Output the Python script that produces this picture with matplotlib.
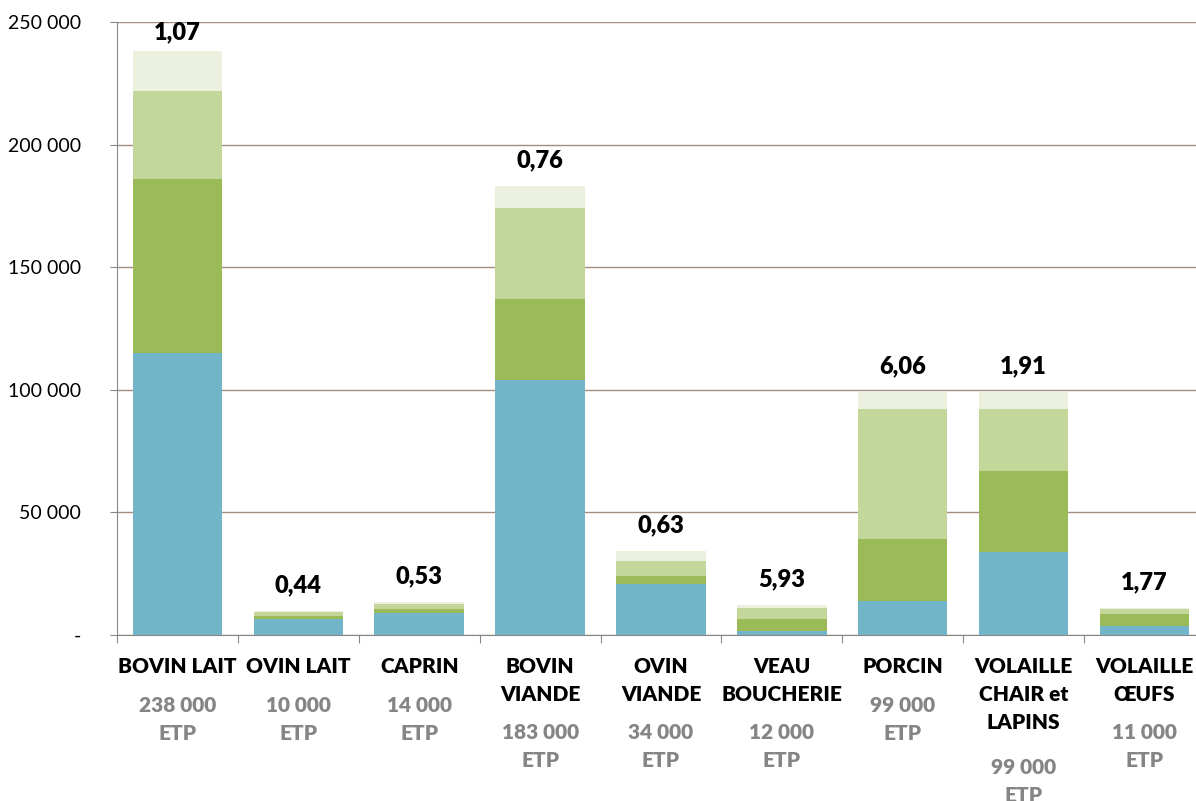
import numpy as np
import matplotlib.pyplot as plt

# data (values in ETP)
categories = ["BOVIN LAIT", "OVIN LAIT", "CAPRIN", "BOVIN\nVIANDE", "OVIN\nVIANDE",
              "VEAU\nBOUCHERIE", "PORCIN", "VOLAILLE\nCHAIR et\nLAPINS", "VOLAILLE\nŒUFS"]
etp_labels = ["238 000\nETP", "10 000\nETP", "14 000\nETP", "183 000\nETP", "34 000\nETP",
              "12 000\nETP", "99 000\nETP", "99 000\nETP", "11 000\nETP"]
ratios = ["1,07", "0,44", "0,53", "0,76", "0,63", "5,93", "6,06", "1,91", "1,77"]

seg1 = [115000, 6700, 8800, 104000, 20700, 1500, 14000, 34000, 3800]
seg2 = [71000, 1200, 1800, 33000, 3500, 4900, 25000, 33000, 4800]
seg3 = [36000, 1400, 1900, 37000, 6100, 4500, 53000, 25000, 2100]
seg4 = [16000, 500, 1000, 9000, 3800, 1300, 7000, 7000, 300]

colors = ["#72B4C8", "#9BBB59", "#C4D79B", "#EBF1DE"]

plt.rcParams['font.family'] = ['Lato', 'DejaVu Sans']

fig = plt.figure(figsize=(11.96, 8.01), dpi=100)
ax = fig.add_axes([0.0978, 0.2072, 0.9097, 0.7653])

x = np.arange(len(categories))
bottom = np.zeros(len(categories))
for seg, c in zip([seg1, seg2, seg3, seg4], colors):
    ax.bar(x, seg, bottom=bottom, width=0.74, color=c, zorder=3)
    bottom += np.array(seg)

# ratio labels above the bars
for xi, tot, r in zip(x, bottom, ratios):
    ax.text(xi, min(tot + 6000, 241500), r, ha='center', va='bottom', fontsize=17,
            fontweight='heavy', color='black')

ax.set_xlim(-0.5, len(categories) - 0.5)
ax.set_ylim(0, 250000)
yt = [0, 50000, 100000, 150000, 200000, 250000]
ax.set_yticks(yt)
ax.set_yticklabels(["-"] + ["{:,}".format(v).replace(",", " ") for v in yt[1:]],
                   fontsize=14)
ax.yaxis.grid(True, color='#A58C7C', linewidth=1, zorder=0)
ax.tick_params(axis='y', length=5, color='#888888', pad=21)

ax.set_xticks(np.arange(len(categories) + 1) - 0.5)
ax.set_xticklabels([])
ax.tick_params(axis='x', length=6, color='#888888', direction='out')

for s in ['top', 'right']:
    ax.spines[s].set_visible(False)
ax.spines['left'].set_color('#888888')
ax.spines['bottom'].set_color('#888888')

# category names and ETP counts under the axis
for xi, name, etp in zip(x, categories, etp_labels):
    ax.annotate(name, xy=(xi, 0), xycoords='data', xytext=(0, -22),
                textcoords='offset pixels', ha='center', va='top',
                fontsize=15, fontweight='heavy', color='black', linespacing=1.55)
    nlines = name.count("\n") + 1
    ax.annotate(etp, xy=(xi, 0), xycoords='data',
                xytext=(0, -22 - 27 * nlines - 12 - (8 if nlines == 3 else 0)),
                textcoords='offset pixels', ha='center', va='top',
                fontsize=15, fontweight='heavy', color='#858585', linespacing=1.55)

fig.savefig("out.png", dpi=100)
